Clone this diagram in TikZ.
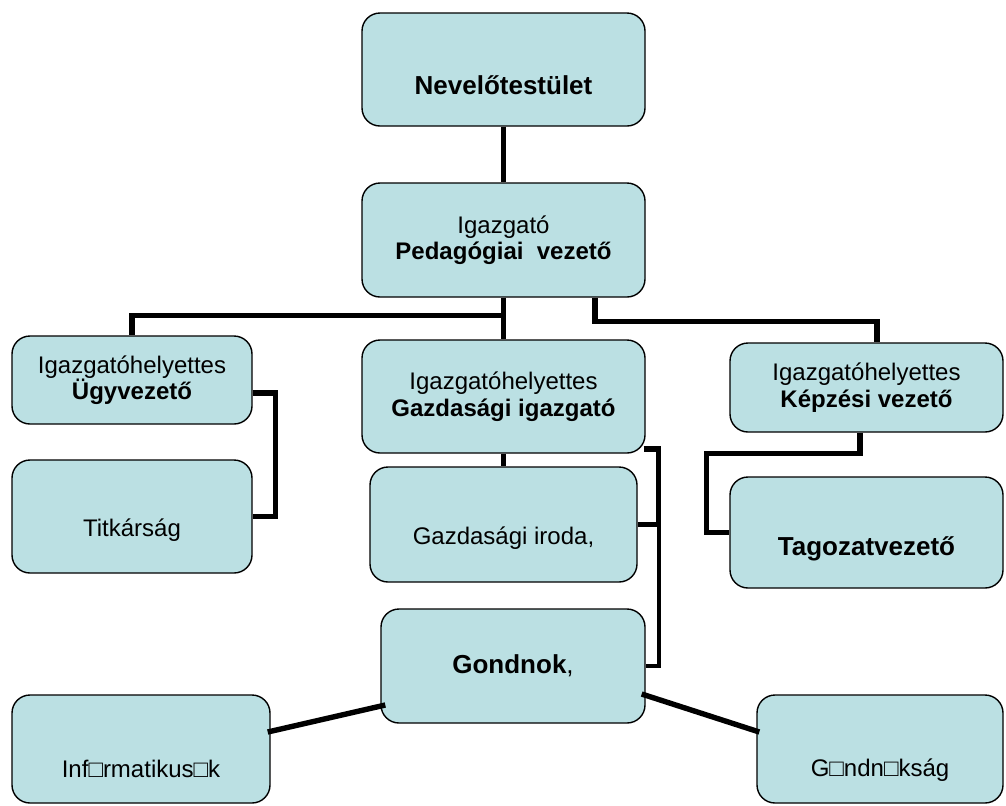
\documentclass[tikz,border=0pt]{standalone}
\usepackage{fontspec}
\setmainfont{Liberation Sans}
\usetikzlibrary{calc}
\definecolor{boxfill}{HTML}{BBE0E3}
\tikzset{
  unit/.style={draw, fill=boxfill, rounded corners=9pt, line width=0.7pt, align=center, inner sep=0pt, font=\fontsize{12}{13.3}\selectfont},
  big/.style={font=\fontsize{13}{15}\selectfont\bfseries},
  link/.style={line width=2.7pt},
  thinlink/.style={line width=1.8pt}
}
\begin{document}
\begin{tikzpicture}[x=0.5pt, y=-0.5pt]
            \useasboundingbox (0, 0) rectangle (1006, 805);

            \node [unit, big, minimum width=141.5pt, minimum height=56.5pt] (nevelo) at (503.5, 69.5) {\strut\\Nevelőtestület};
            \node [unit, minimum width=141.5pt, minimum height=57pt] (igazgato) at (503.5, 240) {Igazgató\\\textbf{Pedagógiai\ \ vezető}};
            \node [unit, minimum width=120pt, minimum height=44pt] (ugyv) at (132, 380) {Igazgatóhelyettes\\\textbf{Ügyvezető}};
            \node [unit, minimum width=120pt, minimum height=56.5pt] (titkar) at (132, 516.5) {\strut\\Titkárság};
            \node [unit, minimum width=141.5pt, minimum height=56.5pt] (gazdig) at (503.5, 396.5) {Igazgatóhelyettes\\\textbf{Gazdasági igazgató}};
            \node [unit, minimum width=133.5pt, minimum height=57.5pt] (iroda) at (503.5, 524.5) {\strut\\Gazdasági iroda,};
            \node [unit, big, minimum width=132pt, minimum height=57pt] (gondnok) at (513, 666) {Gondnok{\mdseries ,}};
            \node [unit, minimum width=136.5pt, minimum height=44.5pt] (kepzes) at (866.5, 387.5) {Igazgatóhelyettes\\\textbf{Képzési vezető}};
            \node [unit, big, minimum width=136.5pt, minimum height=55.5pt] (tagozat) at (866.5, 532.5) {\strut\\Tagozatvezető};
            \node [unit, minimum width=129pt, minimum height=54pt] (info) at (141, 749) {\rule{0pt}{15pt}\\Inf□rmatikus□k};
            \node [unit, minimum width=123pt, minimum height=54pt] (gsag) at (880, 749) {\rule{0pt}{17pt}\\G□ndn□kság};

            \draw [link] (nevelo) -- (igazgato);
            \draw [link] (igazgato) -- (gazdig);
            \draw [link] (igazgato.south) -- ++(0, 18) -| (ugyv.north);
            \draw [link] ($(igazgato.south)+(91.5, 0)$) -- ++(0, 24) -| ($(kepzes.north)+(10.5, 0)$);
            \draw [link] ($(ugyv.east)+(0, 13)$) -- ++(23, 0) |- (titkar.east);
            \draw [link] (gazdig) -- (iroda);
            \draw [link] ($(gazdig.east)+(-2, 52.5)$) -- ++(15, 0) |- (iroda.east);
            \draw [thinlink] ($(iroda.east)+(21, 0)$) |- (gondnok.east);
            \draw [link] ($(kepzes.south)+(-6.5, 0)$) -- ++(0, 21) -| ($(tagozat.west)+(-23, 0)$) -- (tagozat.west);
            \draw [link] ($(gondnok.west)+(5, 39)$) -- ($(info.east)+(-3, -17)$);
            \draw [link] ($(gondnok.east)+(-4, 28)$) -- ($(gsag.west)+(3, -17)$);
        \end{tikzpicture}
\end{document}
